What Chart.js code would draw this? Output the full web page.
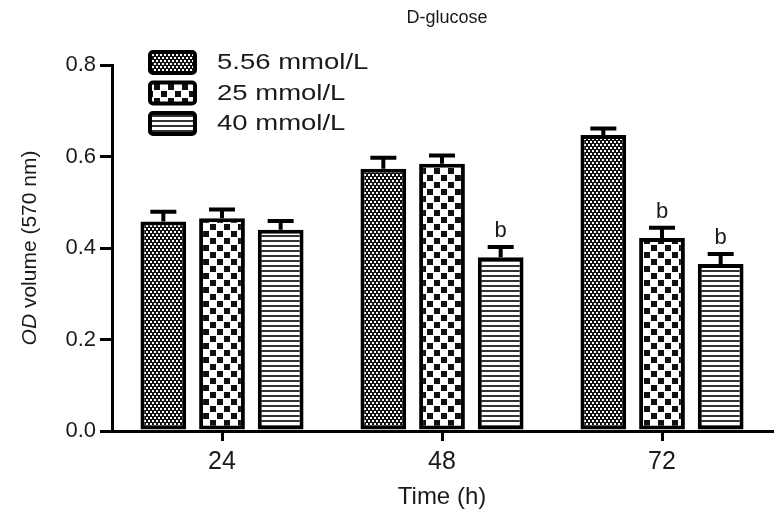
<!DOCTYPE html>
<html>
<head>
<meta charset="utf-8">
<script src="https://cdn.jsdelivr.net/npm/chart.js@4.4.0/dist/chart.umd.min.js"></script>
<style>
  html, body { margin: 0; padding: 0; background: #fff; }
  canvas { display: block; }
</style>
</head>
<body>
<canvas id="odChart" width="781" height="517"></canvas>
<script>
// --- DATA ---
const categories = ['24', '48', '72'];
const seriesLabels = ['5.56 mmol/L', '25 mmol/L', '40 mmol/L'];
const glucoseLow = [0.458, 0.573, 0.647];
const glucoseMid = [0.465, 0.584, 0.422];
const glucoseHigh = [0.440, 0.380, 0.365];
const errLow = [0.021, 0.024, 0.014];
const errMid = [0.019, 0.018, 0.022];
const errHigh = [0.019, 0.022, 0.022];
const sigLow = ['', '', ''];
const sigMid = ['', '', 'b'];
const sigHigh = ['', 'b', 'b'];
const yTicks = [0, 0.2, 0.4, 0.6, 0.8];

const FONT = '"Liberation Sans", Arial, sans-serif';
const INK = '#1a1a1a';

// --- PATTERNS ---
function makePattern(size, draw) {
    const c = document.createElement('canvas');
    c.width = size[0];
    c.height = size[1];
    const g = c.getContext('2d');
    draw(g);
    return document.getElementById('odChart').getContext('2d').createPattern(c, 'repeat');
}

// fine staggered dots
const dotPattern = makePattern([4, 6], g => {
    g.fillStyle = '#111';
    g.fillRect(0, 0, 4, 6);
    g.fillStyle = '#fff';
    g.fillRect(0, 0, 2, 2);
    g.fillRect(2, 3, 2, 2);
});

const checkPattern = makePattern([14, 14], g => {
    g.fillStyle = '#fff';
    g.fillRect(0, 0, 14, 14);
    g.fillStyle = '#111';
    g.fillRect(0, 0, 6, 6);
    g.fillRect(7, 7, 6, 6);
});

const stripePattern = makePattern([5, 5], g => {
    g.fillStyle = '#fff';
    g.fillRect(0, 0, 5, 5);
    g.fillStyle = '#333';
    g.fillRect(0, 0, 5, 2);
});

// --- PLUGINS ---
const errorBarPlugin = {
    id: 'errorBars',
    afterDatasetsDraw(chart) {
        const ctx = chart.ctx;
        const yScale = chart.scales.y;
        chart.data.datasets.forEach((ds, i) => {
            const meta = chart.getDatasetMeta(i);
            meta.data.forEach((bar, j) => {
                const top = yScale.getPixelForValue(ds.data[j] + ds.errors[j]);
                ctx.save();
                ctx.strokeStyle = '#000';
                ctx.lineWidth = 4;
                ctx.beginPath();
                ctx.moveTo(bar.x, bar.y);
                ctx.lineTo(bar.x, top);
                ctx.moveTo(bar.x - 13, top);
                ctx.lineTo(bar.x + 13, top);
                ctx.stroke();
                if (ds.marks[j]) {
                    ctx.fillStyle = INK;
                    ctx.font = '22px ' + FONT;
                    ctx.textAlign = 'center';
                    ctx.textBaseline = 'bottom';
                    ctx.fillText(ds.marks[j], bar.x, top - 5);
                }
                ctx.restore();
            });
        });
    }
};

const decorPlugin = {
    id: 'decor',
    afterDraw(chart) {
        const ctx = chart.ctx;
        const area = chart.chartArea;
        ctx.save();

        // title
        ctx.fillStyle = INK;
        ctx.font = '18px ' + FONT;
        ctx.textAlign = 'center';
        ctx.textBaseline = 'middle';
        ctx.fillText('D-glucose', 447, 18);

        // y axis title with italic OD
        ctx.translate(30, (area.top + area.bottom) / 2);
        ctx.rotate(-Math.PI / 2);
        ctx.textBaseline = 'middle';
        ctx.textAlign = 'left';
        const italic = 'italic 21px ' + FONT;
        const normal = '21px ' + FONT;
        ctx.font = italic;
        const w1 = ctx.measureText('OD').width;
        ctx.font = normal;
        const rest = ' volume (570 nm)';
        const w2 = ctx.measureText(rest).width;
        const start = -(w1 + w2) / 2;
        ctx.font = italic;
        ctx.fillText('OD', start, 0);
        ctx.font = normal;
        ctx.fillText(rest, start + w1, 0);
        ctx.restore();

        // legend (text is a little wide in the original, so stretch it)
        chart.data.datasets.forEach((ds, i) => {
            const cy = 62 + i * 30.5;
            ctx.save();
            ctx.beginPath();
            ctx.roundRect(150, cy - 10, 45, 21, 3);
            ctx.fillStyle = ds.backgroundColor;
            ctx.fill();
            ctx.lineWidth = 4;
            ctx.strokeStyle = '#000';
            ctx.stroke();
            ctx.translate(217, cy + 1);
            ctx.scale(1.25, 1);
            ctx.fillStyle = INK;
            ctx.font = '22px ' + FONT;
            ctx.textAlign = 'left';
            ctx.textBaseline = 'middle';
            ctx.fillText(ds.label, 0, 0);
            ctx.restore();
        });
    }
};

// --- CHART ---
function barSet(label, data, errors, marks, fill) {
    return {
        label: label,
        data: data,
        errors: errors,
        marks: marks,
        backgroundColor: fill,
        borderColor: '#000',
        borderWidth: 4,
        borderSkipped: false,
        categoryPercentage: 0.8,
        barPercentage: 0.78
    };
}

new Chart(document.getElementById('odChart'), {
    type: 'bar',
    data: {
        labels: categories,
        datasets: [
            barSet(seriesLabels[0], glucoseLow, errLow, sigLow, dotPattern),
            barSet(seriesLabels[1], glucoseMid, errMid, sigMid, checkPattern),
            barSet(seriesLabels[2], glucoseHigh, errHigh, sigHigh, stripePattern)
        ]
    },
    options: {
        responsive: false,
        animation: false,
        layout: { padding: { top: 65, right: 9, left: 0, bottom: 0 } },
        plugins: {
            legend: { display: false },
            title: { display: false },
            tooltip: { enabled: false }
        },
        scales: {
            x: {
                afterFit: scale => { scale.height = 86; },
                grid: { display: true, drawOnChartArea: false, offset: false, tickLength: 10, lineWidth: 3, color: '#000' },
                border: { display: true, width: 3, color: '#000' },
                ticks: { color: INK, padding: 6, font: { family: FONT, size: 25 } },
                title: { display: true, text: 'Time (h)', color: INK, padding: { top: 0, bottom: 5 }, font: { family: FONT, size: 24 } }
            },
            y: {
                min: 0,
                max: 0.8,
                afterFit: scale => { scale.width = 112; },
                afterBuildTicks: scale => { scale.ticks = yTicks.map(v => ({ value: v })); },
                grid: { display: true, drawOnChartArea: false, tickLength: 12, lineWidth: 3, color: '#000' },
                border: { display: true, width: 3, color: '#000' },
                ticks: { color: INK, padding: 4, font: { family: FONT, size: 22 }, callback: v => Number(v).toFixed(1) }
            }
        }
    },
    plugins: [errorBarPlugin, decorPlugin]
});
</script>
</body>
</html>
